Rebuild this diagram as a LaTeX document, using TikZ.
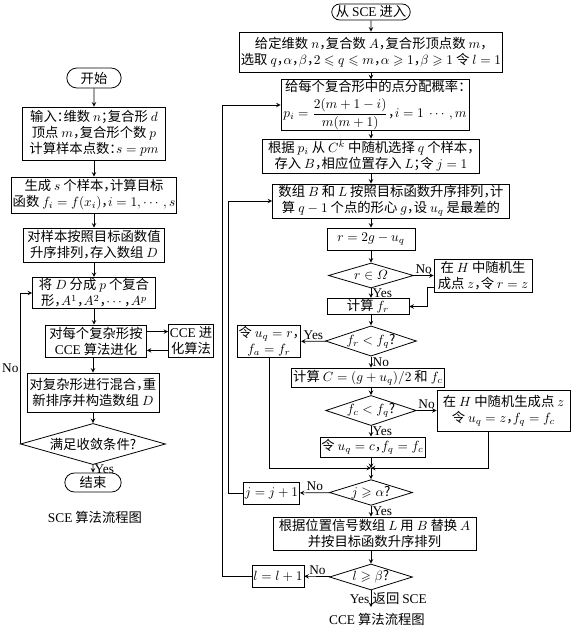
\documentclass[tikz,border=0pt]{standalone}
\usepackage{amsmath,amssymb}
\usepackage[no-math]{fontspec}
\setmainfont{Noto Sans CJK SC}[RawFeature={+halt}]
\newfontfamily\latinfont{Liberation Serif}
\newcommand{\enw}[1]{{\latinfont #1}}
\usetikzlibrary{shapes.geometric,shapes.misc}

\begin{document}
\begin{tikzpicture}[x=0.75pt, y=-0.75pt, >=stealth,
    font=\fontsize{10}{12}\selectfont,
    box/.style={draw, rectangle, align=center, inner sep=1pt, line width=0.6pt},
    term/.style={draw, rounded rectangle, inner sep=1pt, line width=0.6pt},
    cond/.style={draw, diamond, aspect=3, inner sep=0pt, line width=0.6pt},
    sz/.style 2 args={minimum width=#1*0.75pt, minimum height=#2*0.75pt},
    flow/.style={->, line width=0.5pt},
    lbl/.style={font=\fontsize{10}{12}\selectfont\latinfont, inner sep=1pt}]
    \useasboundingbox (0,0) rectangle (571,626);

    % SCE
    \node[term, sz={57}{20}] (start) at (94,78) {开始};
    \node[box, sz={143}{53}] (input) at (94,133.5) {输入：维数 $n$；复合形 $d$\\顶点 $m$，复合形个数 $p$\\计算样本点数：$s=pm$};
    \node[box, sz={164}{36}] (gen) at (94,195) {生成 $s$ 个样本，计算目标\\函数 $f_i=f(x_i)$，$i=1,\cdots,s$};
    \node[box, sz={141}{34}] (sort) at (94,245) {对样本按照目标函数值\\升序排列，存入数组 $D$};
    \node[box, sz={123}{30}] (split) at (94,293) {将 $D$ 分成 $p$ 个复合\\形，$A^1$，$A^2$，$\cdots$，$A^p$};
    \node[box, sz={101}{32}] (evol) at (96,341) {对每个复杂形按\\\enw{CCE} 算法进化};
    \node[box, sz={44}{33}] (cce) at (191,341) {\enw{CCE} 进\\化算法};
    \node[box, sz={132}{39}] (mix) at (93,392.5) {对复杂形进行混合，重\\新排序并构造数组 $D$};
    \node[cond, sz={145}{29}] (conv) at (93,444) {满足收敛条件?};
    \node[term, sz={59}{19}] (end) at (93,482.5) {结束};
    \node (cap1) at (95,517) {\enw{SCE} 算法流程图};

    \draw[flow] (start) -- (input);
    \draw[flow] (input) -- (gen);
    \draw[flow] (gen) -- (sort);
    \draw[flow] (sort) -- (split);
    \draw[flow] (split) -- (split |- evol.north);
    \draw[flow] ([yshift=7pt]evol.east) -- ([yshift=7pt]cce.west);
    \draw[flow] ([yshift=-7pt]cce.west) -- ([yshift=-7pt]evol.east);
    \draw[flow] (mix |- evol.south) -- (mix);
    \draw[flow] (mix) -- (conv);
    \draw[flow] (conv) -- node[lbl, right]{Yes} (end);
    \draw[flow] (conv.west) -- node[lbl, left]{No} (conv.west |- split.west) -- (split.west);

    % CCE
    \node[term, sz={78}{16}] (enter) at (371,12) {从 \enw{SCE} 进入};
    \node[box, sz={238}{40}] (given) at (371,52) {给定维数 $n$，复合数 $A$，复合形顶点数 $m$，\\选取 $q$，$\alpha$，$\beta$，$2\leqslant q\leqslant m$，$\alpha\geqslant1$，$\beta\geqslant1$ 令 $l=1$};
    \node[box, sz={188}{46}, inner sep=0.5pt] (prob) at (375,105) {给每个复合形中的点分配概率：\\[3pt]$p_i=\dfrac{2(m+1-i)}{m(m+1)}$，$i=1\ \cdots,m$};
    \node[box, sz={217}{34}] (pick) at (371,156) {根据 $p_i$ 从 $C^k$ 中随机选择 $q$ 个样本，\\存入 $B$，相应位置存入 $L$；令 $j=1$};
    \node[box, sz={237}{34}] (order) at (391,201) {数组 $B$ 和 $L$ 按照目标函数升序排列，计\\算 $q-1$ 个点的形心 $g$，设 $u_q$ 是最差的};
    \node[box, sz={88}{22}] (refl) at (371,239) {$r=2g-u_q$};
    \node[cond, sz={85}{25}] (inset) at (371,275.5) {$r\in\varOmega$};
    \node[box, sz={98}{33}] (rand1) at (483,275.5) {在 $H$ 中随机生\\成点 $z$，令 $r=z$};
    \node[box, sz={82}{15}] (calcr) at (368,306.5) {计算 $f_r$};
    \node[cond, sz={83}{26}] (better) at (371,341) {$f_r<f_q$?};
    \node[box, sz={58}{27}] (accr) at (269,341.5) {令 $u_q=r$，\\$f_a=f_r$};
    \node[box, sz={150}{19}] (contr) at (368,377.5) {计算 $C=(g+u_q)/2$ 和 $f_c$};
    \node[cond, sz={85}{29}] (better2) at (371,410.5) {$f_c<f_q$?};
    \node[box, sz={133}{41}] (rand2) at (503.5,410.5) {在 $H$ 中随机生成点 $z$\\令 $u_q=z$，$f_q=f_c$};
    \node[box, sz={103}{20}] (accc) at (372.5,447) {令 $u_q=c$，$f_q=f_c$};
    \coordinate (join) at (371,468);
    \node[cond, sz={83}{25}] (jtest) at (371,492.5) {$j\geqslant\alpha$?};
    \node[box, sz={49}{22}] (jinc) at (271.5,493) {$j=j+1$};
    \node[box, sz={203}{33}] (repl) at (374.5,533.5) {根据位置信号数组 $L$ 用 $B$ 替换 $A$\\并按目标函数升序排列};
    \node[cond, sz={83}{26}] (ltest) at (371,577) {$l\geqslant\beta$?};
    \node[box, sz={50}{22}] (linc) at (278,576) {$l=l+1$};
    \coordinate (exit) at (371,607);
    \node (cap2) at (377,619) {\enw{CCE} 算法流程图};

    \draw[flow] (enter) -- (given);
    \draw[flow] (given) -- (given |- prob.north);
    \draw[flow] (pick |- prob.south) -- (pick);
    \draw[flow] (pick) -- (pick |- order.north);
    \draw[flow] (refl |- order.south) -- (refl);
    \draw[flow] (refl) -- (inset);
    \draw[flow] (inset) -- node[lbl, above]{No} (rand1);
    \draw[flow] (inset) -- node[lbl, right]{Yes} (inset |- calcr.north);
    \draw[flow] ([yshift=-8.6pt]rand1.west) -- ++(-6,0) |- (calcr.east);
    \draw[flow] (better |- calcr.south) -- (better);
    \draw[flow] (better) -- node[lbl, above]{Yes} (accr);
    \draw[flow] (better) -- node[lbl, right]{No} (better |- contr.north);
    \draw[flow] (better2 |- contr.south) -- (better2);
    \draw[flow] (better2) -- node[lbl, above]{No} (rand2);
    \draw[flow] (better2) -- node[lbl, right]{Yes} (better2 |- accc.north);
    \draw[flow] (accr) |- (join);
    \draw[flow] ([xshift=-11.6pt]rand2.south) |- (join);
    \draw[flow] (join |- accc.south) -- (join);
    \draw[flow] (join) -- (jtest);
    \draw[flow] (jtest) -- node[lbl, above]{No} (jinc);
    \draw[flow] (jinc.west) -- ++(-15,0) |- (order.west);
    \draw[flow] (jtest) -- node[lbl, right]{Yes} (jtest |- repl.north);
    \draw[flow] (ltest |- repl.south) -- (ltest);
    \draw[flow] (ltest) -- node[lbl, above]{No} (linc);
    \draw[flow] (linc.west) -- ++(-29,0) |- (prob.west);
    \draw[flow] (ltest) -- node[lbl, left]{Yes} node[right, inner sep=1pt]{返回 \enw{SCE}} (exit);
\end{tikzpicture}
\end{document}
